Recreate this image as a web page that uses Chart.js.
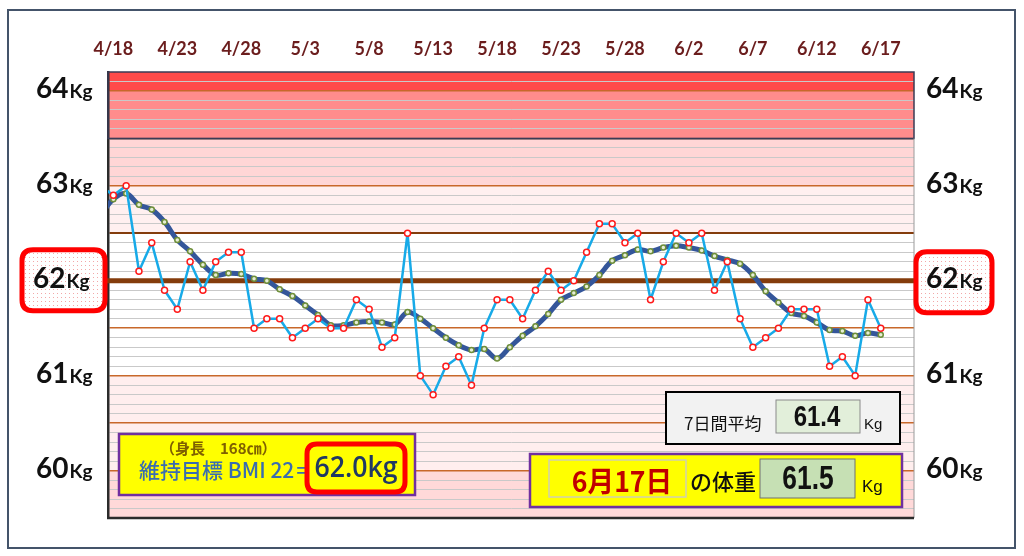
<!DOCTYPE html>
<html>
<head>
<meta charset="utf-8">
<script src="https://cdn.jsdelivr.net/npm/chart.js@4.4.0/dist/chart.umd.min.js"></script>
<style>
  html, body { margin: 0; padding: 0; background: #fff; }
  #wrap { width: 1024px; height: 556px; }
</style>
</head>
<body>
<div id="wrap"><canvas id="myChart" width="1024" height="556"></canvas></div>
<script>
// day 0 = 4/18, first value is 4/17 (just left of the plot, clipped)
const firstDay = -1;
const dailyWeights = [
  63.0, 62.9, 63.0, 62.1, 62.4, 61.9, 61.7, 62.2, 61.9, 62.2,
  62.3, 62.3, 61.5, 61.6, 61.6, 61.4, 61.5, 61.6, 61.5, 61.5,
  61.8, 61.7, 61.3, 61.4, 62.5, 61.0, 60.8, 61.1, 61.2, 60.9,
  61.5, 61.8, 61.8, 61.6, 61.9, 62.1, 61.9, 62.0, 62.3, 62.6,
  62.6, 62.4, 62.5, 61.8, 62.2, 62.5, 62.4, 62.5, 61.9, 62.2,
  61.6, 61.3, 61.4, 61.5, 61.7, 61.7, 61.7, 61.1, 61.2, 61.0,
  61.8, 61.5
];
const weeklyAverage = [
  62.69, 62.86, 62.92, 62.80, 62.75, 62.62, 62.43, 62.31, 62.17, 62.06,
  62.08, 62.07, 62.02, 62.00, 61.91, 61.84, 61.74, 61.64, 61.53, 61.53,
  61.56, 61.57, 61.56, 61.54, 61.67, 61.60, 61.50, 61.40, 61.32, 61.27,
  61.28, 61.18, 61.30, 61.42, 61.52, 61.65, 61.80, 61.87, 61.94, 62.06,
  62.21, 62.27, 62.33, 62.31, 62.35, 62.37, 62.35, 62.32, 62.26, 62.22,
  62.18, 62.06, 61.89, 61.77, 61.66, 61.63, 61.56, 61.48, 61.47, 61.42,
  61.45, 61.43
];
const tickDays = [0, 5, 10, 15, 20, 25, 30, 35, 40, 45, 50, 55, 60];
const tickLabels = ['4/18', '4/23', '4/28', '5/3', '5/8', '5/13', '5/18', '5/23', '5/28', '6/2', '6/7', '6/12', '6/17'];
const yLabels = [64, 63, 62, 61, 60];
const bandEdges = [64.2, 64, 63.5, 63, 62.5, 61, 60, 59.5];
const bandColors = ['#ff4a4a', '#ff8c8c', '#ffd6d6', '#fff0f0', '#ffffff', '#ffeeee', '#ffd9d9'];
const targetWeight = 62;
const bodyHeight = 168;
const targetBmi = 22;
const latestDate = '6月17日';

function toPoints(values) {
  return values.map((v, i) => ({ x: firstDay + i, y: v }));
}

function roundRect(ctx, x, y, w, h, r) {
  ctx.beginPath();
  ctx.moveTo(x + r, y);
  ctx.lineTo(x + w - r, y);
  ctx.quadraticCurveTo(x + w, y, x + w, y + r);
  ctx.lineTo(x + w, y + h - r);
  ctx.quadraticCurveTo(x + w, y + h, x + w - r, y + h);
  ctx.lineTo(x + r, y + h);
  ctx.quadraticCurveTo(x, y + h, x, y + h - r);
  ctx.lineTo(x, y + r);
  ctx.quadraticCurveTo(x, y, x + r, y);
  ctx.closePath();
}

function dotPattern(ctx) {
  const c = document.createElement('canvas');
  c.width = 4; c.height = 4;
  const g = c.getContext('2d');
  g.fillStyle = '#fff';
  g.fillRect(0, 0, 4, 4);
  g.fillStyle = '#f2a8a8';
  g.fillRect(1, 1, 1, 1);
  return ctx.createPattern(c, 'repeat');
}

// sx < 1 squeezes the text sideways (narrow font look)
function text(ctx, str, x, y, font, color, align, sx) {
  ctx.save();
  ctx.font = font;
  ctx.fillStyle = color;
  ctx.textAlign = align || 'left';
  ctx.textBaseline = 'middle';
  ctx.translate(x, y);
  ctx.scale(sx || 1, 1);
  ctx.fillText(str, 0, 0);
  ctx.restore();
}

function box(ctx, x, y, w, h, fill, stroke, lw) {
  ctx.fillStyle = fill;
  ctx.fillRect(x, y, w, h);
  if (stroke) {
    ctx.strokeStyle = stroke;
    ctx.lineWidth = lw;
    ctx.strokeRect(x, y, w, h);
  }
}

const sans = "'Liberation Sans', Arial, sans-serif";
const jp = "'Noto Sans CJK JP', sans-serif";

const decorPlugin = {
  id: 'decor',
  beforeDraw(chart) {
    const { ctx, chartArea: a, scales: { y } } = chart;
    ctx.save();
    ctx.fillStyle = '#fff';
    ctx.fillRect(0, 0, chart.width, chart.height);
    for (let i = 0; i < bandColors.length; i++) {
      const top = y.getPixelForValue(bandEdges[i]);
      const bot = y.getPixelForValue(bandEdges[i + 1]);
      ctx.fillStyle = bandColors[i];
      ctx.fillRect(a.left, top, a.right - a.left, bot - top);
    }
    ctx.restore();
  },
  beforeDatasetsDraw(chart) {
    const { ctx, chartArea: a, scales: { y } } = chart;
    ctx.save();
    // dark frame round the upper red bands
    const t = y.getPixelForValue(64.2), m = y.getPixelForValue(63.5);
    ctx.strokeStyle = '#3b3b55';
    ctx.lineWidth = 1.5;
    ctx.strokeRect(a.left, t, a.right - a.left, m - t);
    ctx.strokeStyle = '#9a9a9a';
    ctx.lineWidth = 1;
    ctx.beginPath();
    ctx.moveTo(a.right, m);
    ctx.lineTo(a.right, a.bottom);
    ctx.stroke();
    ctx.strokeStyle = '#2b2b2b';
    ctx.lineWidth = 2.5;
    ctx.beginPath();
    ctx.moveTo(a.left - 1, a.bottom);
    ctx.lineTo(a.right, a.bottom);
    ctx.stroke();
    // target weight line
    const ty = y.getPixelForValue(targetWeight);
    ctx.strokeStyle = '#843c0c';
    ctx.lineWidth = 5;
    ctx.beginPath();
    ctx.moveTo(a.left - 4, ty);
    ctx.lineTo(a.right + 4, ty);
    ctx.stroke();
    ctx.restore();
  },
  afterDraw(chart) {
    const { ctx, scales: { y } } = chart;
    ctx.save();
    // outer frame
    ctx.strokeStyle = '#44546a';
    ctx.lineWidth = 2;
    ctx.strokeRect(8, 10, 1007, 538);

    // 62Kg boxes
    const ty = y.getPixelForValue(targetWeight);
    const pat = dotPattern(ctx);
    [[22, ty - 31, 83, 61], [916, ty - 29, 76, 61]].forEach(([x, yy, w, h]) => {
      roundRect(ctx, x, yy, w, h, 11);
      ctx.fillStyle = pat;
      ctx.fill();
      ctx.strokeStyle = '#ff0000';
      ctx.lineWidth = 5;
      ctx.stroke();
    });

    // weight labels both sides
    yLabels.forEach(v => {
      const py = y.getPixelForValue(v) + 7;
      [v === 62 ? 33 : 36, 926].forEach(x => {
        ctx.textAlign = 'left';
        ctx.textBaseline = 'alphabetic';
        ctx.fillStyle = '#111';
        ctx.font = "bold 28px Lato, 'Open Sans', sans-serif";
        ctx.fillText(String(v), x, py);
        const w = ctx.measureText(String(v)).width;
        ctx.font = "bold 19px Lato, 'Open Sans', sans-serif";
        ctx.fillText('Kg', x + w + 1, py);
      });
    });

    // target box
    box(ctx, 119, 434, 296, 61, '#ffff00', '#7030a0', 2.5);
    text(ctx, '（身長　' + bodyHeight + '㎝）', 160, 448, 'bold 15px ' + jp, '#7f6000');
    text(ctx, '維持目標 BMI ' + targetBmi + '＝', 139, 470, '500 21px ' + jp, '#3a6db0');
    roundRect(ctx, 307, 444, 98, 48, 10);
    ctx.fillStyle = '#ffff00';
    ctx.fill();
    ctx.strokeStyle = '#ff0000';
    ctx.lineWidth = 5;
    ctx.stroke();
    text(ctx, targetWeight.toFixed(1) + 'kg', 356, 469, "600 29px 'Open Sans', sans-serif", '#1f3864', 'center', 0.92);

    // 7 day average
    const lastAvg = weeklyAverage[weeklyAverage.length - 1];
    box(ctx, 666, 392, 234, 52, '#f2f2f2', '#000', 2);
    text(ctx, '7日間平均', 684, 424, '17px ' + jp, '#111');
    box(ctx, 776, 400, 84, 33, '#e2efda', '#8a8a8a', 1);
    text(ctx, lastAvg.toFixed(1), 817, 418, 'bold 30px ' + sans, '#111', 'center', 0.8);
    text(ctx, 'Kg', 864, 425, '15px ' + sans, '#111');

    // latest weight
    const lastWeight = dailyWeights[dailyWeights.length - 1];
    box(ctx, 530, 454, 372, 53, '#ffff00', '#7030a0', 2.5);
    box(ctx, 549, 460, 137, 37, '#ffff00', '#d0d0b0', 1.5);
    text(ctx, latestDate, 622, 481, 'bold 28px ' + jp, '#c00000', 'center', 0.95);
    text(ctx, 'の体重', 690, 482, '500 22px ' + jp, '#111');
    box(ctx, 760, 459, 95, 39, '#c6e0b4', '#707070', 1);
    text(ctx, lastWeight.toFixed(1), 808, 480, 'bold 33px ' + sans, '#111', 'center', 0.8);
    text(ctx, 'Kg', 862, 487, '17px ' + sans, '#111');
    ctx.restore();
  }
};

function gridStyle(value) {
  const v = Math.round(value * 10);
  if (v === 635) return { c: '#5a4848', w: 1.5 };
  if (v === 625) return { c: '#843c0c', w: 2 };
  if (v === 642) return { c: 'rgba(0,0,0,0)', w: 1 };
  if (v % 5 === 0 && v <= 640) return { c: '#c8682a', w: 1.5 };
  return { c: '#c9c9c9', w: 1 };
}

new Chart(document.getElementById('myChart'), {
  type: 'line',
  data: {
    datasets: [{
      label: '体重',
      data: toPoints(dailyWeights),
      borderColor: '#17aae8',
      borderWidth: 2.5,
      borderJoinStyle: 'round',
      pointRadius: 3,
      pointBorderColor: '#ff1a1a',
      pointBackgroundColor: '#ffffff',
      pointBorderWidth: 1.5,
      tension: 0,
      clip: 0
    }, {
      label: '7日間平均',
      data: toPoints(weeklyAverage),
      borderColor: '#34569a',
      borderWidth: 5,
      borderJoinStyle: 'round',
      pointRadius: 2.5,
      pointBorderColor: '#6f8f3a',
      pointBackgroundColor: '#e6eed6',
      pointBorderWidth: 1.5,
      tension: 0.35,
      clip: 0
    }]
  },
  options: {
    responsive: false,
    animation: false,
    layout: { padding: { left: 0, right: 110, top: 0, bottom: 38 } },
    plugins: { legend: { display: false }, tooltip: { enabled: false } },
    scales: {
      x: {
        type: 'linear',
        position: 'top',
        min: -0.42,
        max: 62.6,
        afterBuildTicks: s => { s.ticks = tickDays.map(v => ({ value: v })); },
        afterFit: s => { s.height = 72; },
        grid: { display: false, drawTicks: false },
        border: { display: false },
        ticks: {
          autoSkip: false,
          maxRotation: 0,
          padding: 12,
          color: '#6b1d1d',
          font: { family: "Lato, 'Open Sans', sans-serif", size: 18, weight: 'bold' },
          callback: v => tickLabels[tickDays.indexOf(v)]
        }
      },
      y: {
        min: 59.5,
        max: 64.2,
        afterFit: s => { s.width = 108; },
        ticks: { stepSize: 0.1, display: false },
        grid: {
          drawTicks: false,
          color: c => gridStyle(c.tick.value).c,
          lineWidth: c => gridStyle(c.tick.value).w
        },
        border: { display: true, color: '#2b2b2b', width: 2.5 }
      }
    }
  },
  plugins: [decorPlugin]
});
</script>
</body>
</html>
